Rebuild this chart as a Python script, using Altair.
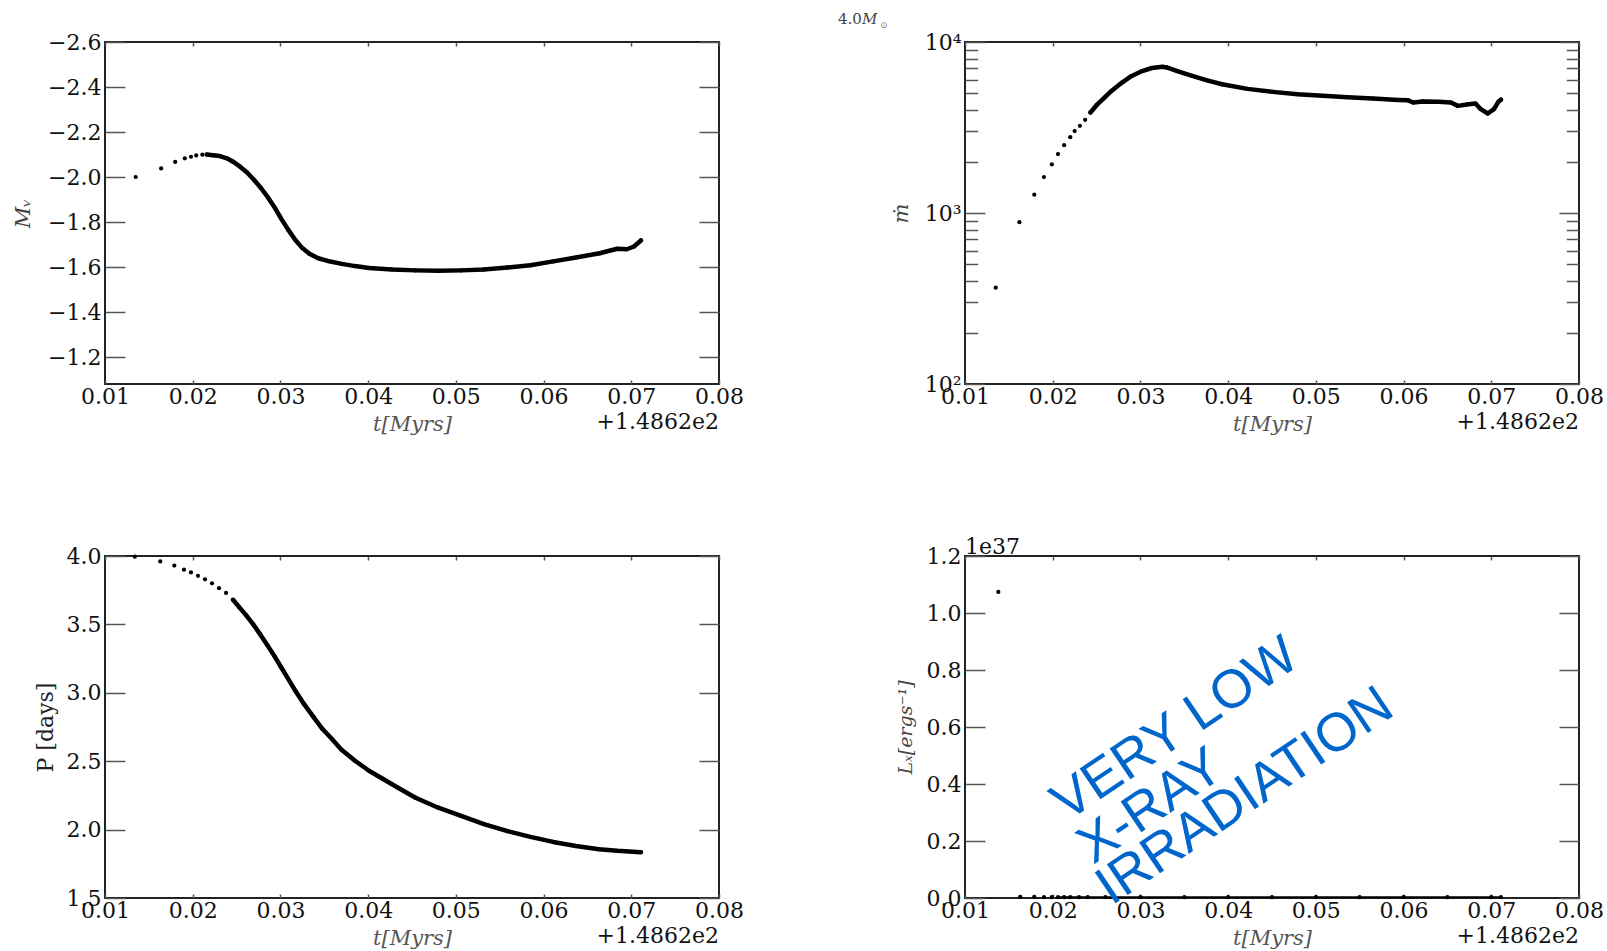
import altair as alt
import pandas as pd

# ---------------- data (time offsets from 148.62 Myr) ----------------
mv_t = [0.0135, 0.0164, 0.0180, 0.0191, 0.0198, 0.0204, 0.0211, 0.0216, 0.0223, 0.0231,
        0.0239, 0.0246, 0.0254, 0.0262, 0.0270, 0.0278, 0.0286, 0.0294, 0.0301, 0.0309,
        0.0317, 0.0325, 0.0333, 0.0343, 0.0354, 0.0370, 0.0385, 0.0401, 0.0427, 0.0454,
        0.0480, 0.0506, 0.0532, 0.0559, 0.0585, 0.0611, 0.0637, 0.0664, 0.0684, 0.0695,
        0.0703, 0.0711]
mv_v = [-2.000, -2.038, -2.067, -2.083, -2.090, -2.096, -2.099, -2.100, -2.097, -2.093,
        -2.083, -2.068, -2.046, -2.020, -1.987, -1.950, -1.908, -1.861, -1.814, -1.765,
        -1.720, -1.684, -1.659, -1.639, -1.627, -1.614, -1.604, -1.596, -1.589, -1.585,
        -1.583, -1.585, -1.589, -1.598, -1.608, -1.625, -1.642, -1.661, -1.681, -1.679,
        -1.691, -1.718]

md_t = [0.0135, 0.0162, 0.0179, 0.0190, 0.0199, 0.0206, 0.0213, 0.0220, 0.0225, 0.0231,
        0.0237, 0.0243, 0.0250, 0.0259, 0.0267, 0.0279, 0.0290, 0.0302, 0.0313, 0.0325,
        0.0330, 0.0342, 0.0359, 0.0376, 0.0393, 0.0422, 0.0451, 0.0479, 0.0508, 0.0536,
        0.0565, 0.0594, 0.0605, 0.0611, 0.0622, 0.0640, 0.0654, 0.0662, 0.0674, 0.0682,
        0.0688, 0.0696, 0.0703, 0.0708, 0.0711]
md_v = [366, 883, 1280, 1623, 1923, 2210, 2493, 2777, 3013, 3237,
        3508, 3872, 4270, 4730, 5176, 5790, 6330, 6760, 7045, 7160,
        7100, 6760, 6330, 5970, 5660, 5320, 5110, 4950, 4845, 4757,
        4670, 4585, 4560, 4426, 4490, 4470, 4426, 4230, 4327, 4365,
        4046, 3818, 4046, 4470, 4600]

p_t = [0.0134, 0.0163, 0.0179, 0.0190, 0.0198, 0.0206, 0.0214, 0.0222, 0.0230, 0.0238,
       0.0246, 0.0253, 0.0261, 0.0269, 0.0277, 0.0285, 0.0293, 0.0301, 0.0309, 0.0317,
       0.0327, 0.0338, 0.0348, 0.0359, 0.0369, 0.0385, 0.0401, 0.0417, 0.0433, 0.0454,
       0.0480, 0.0506, 0.0532, 0.0558, 0.0585, 0.0611, 0.0637, 0.0663, 0.0684, 0.0711]
p_v = [3.995, 3.960, 3.930, 3.900, 3.880, 3.855, 3.830, 3.800, 3.765, 3.730,
       3.680, 3.626, 3.566, 3.500, 3.427, 3.350, 3.270, 3.185, 3.100, 3.015,
       2.917, 2.820, 2.735, 2.660, 2.588, 2.503, 2.430, 2.370, 2.310, 2.233,
       2.160, 2.100, 2.040, 1.990, 1.947, 1.910, 1.880, 1.857, 1.845, 1.835]

lx_t = [0.0138, 0.0163, 0.0179, 0.0190, 0.0199, 0.0206, 0.0213, 0.0220, 0.0230, 0.0240,
        0.0260, 0.0300, 0.0350, 0.0400, 0.0450, 0.0500, 0.0550, 0.0600, 0.0650, 0.0700,
        0.0711]
lx_v = [1.074, 0.004, 0.004, 0.003, 0.003, 0.003, 0.003, 0.003, 0.003, 0.003,
        0.003, 0.003, 0.003, 0.003, 0.003, 0.003, 0.003, 0.003, 0.003, 0.003,
        0.003]

x_ticks = [0.01, 0.02, 0.03, 0.04, 0.05, 0.06, 0.07, 0.08]
mv_ticks = [-2.6, -2.4, -2.2, -2.0, -1.8, -1.6, -1.4, -1.2]
md_major = [100, 1000, 10000]
md_minor = [200, 300, 400, 500, 600, 700, 800, 900, 2000, 3000, 4000, 5000, 6000, 7000, 8000, 9000]
p_ticks = [1.5, 2.0, 2.5, 3.0, 3.5, 4.0]
lx_ticks = [0.0, 0.2, 0.4, 0.6, 0.8, 1.0, 1.2]

offset_text = ["+1.4862e2"]
lx_offset_text = ["1e37"]
mass_text = ["4.0", "M", "⊙"]
blue_lines = ["VERY LOW", "X-RAY", "IRRADIATION"]

# ---------------- styling ----------------
W, H = 614, 342
FONT = "DejaVu Serif"
LFS = 22
TICKC = "#555555"
MAJ, XT = 20, 4

xs = alt.Scale(domain=[0.01, 0.08], nice=False, zero=False)


def x_bottom():
    return alt.Axis(orient="bottom", values=x_ticks, format=".2f", offset=-XT, tickSize=XT,
                    tickWidth=1.5, tickColor=TICKC, domain=False, grid=False,
                    labelFont=FONT, labelFontSize=LFS, labelColor="#111111", labelPadding=2,
                    labelFlush=False, labelOverlap=False, labelBound=False,
                    title="t[Myrs]", titleFont=FONT, titleFontStyle="italic",
                    titleFontWeight="normal", titleFontSize=21, titleColor="#555555",
                    titleBaseline="alphabetic", titleAlign="center", titleX=W / 2, titleY=50)


def x_top():
    return alt.Axis(orient="top", values=x_ticks, offset=-XT, tickSize=XT, tickWidth=1.5,
                    tickColor=TICKC, domain=False, grid=False, labels=False, title=None)


def y_left(values, title, title_x, fmt=None, expr=None, tsize=21, tstyle="italic",
           tcolor="#444444"):
    kw = dict(orient="left", values=values, offset=-MAJ, tickSize=MAJ, tickWidth=1.5,
              tickColor=TICKC, domain=False, grid=False, labelFont=FONT,
              labelFontSize=LFS, labelColor="#111111", labelPadding=4,
              labelOverlap=False, labelFlush=False, labelBound=False,
              title=title, titleFont=FONT, titleFontStyle=tstyle, titleFontWeight="normal",
              titleFontSize=tsize, titleColor=tcolor, titleAngle=270,
              titleBaseline="middle", titleAlign="center", titleX=title_x, titleY=H / 2)
    if fmt is not None:
        kw["format"] = fmt
    if expr is not None:
        kw["labelExpr"] = expr
    return alt.Axis(**kw)


def y_right(values, size=MAJ):
    return alt.Axis(orient="right", values=values, offset=-size, tickSize=size, tickWidth=1.5,
                    tickColor=TICKC, domain=False, grid=False, labels=False, title=None)


def y_left_minor(values, size):
    return alt.Axis(orient="left", values=values, offset=-size, tickSize=size, tickWidth=1.5,
                    tickColor=TICKC, domain=False, grid=False, labels=False, title=None)


def panel(tv, vv, ys, left_axis, right_values, dense_from, line_w=4.5,
          extra=None, minor=None):
    df = pd.DataFrame({"t": tv, "v": vv})
    base = alt.Chart(df)
    pts = base.mark_circle(size=18, color="black", opacity=1).encode(
        x=alt.X("t:Q", scale=xs, axis=x_bottom()),
        y=alt.Y("v:Q", scale=ys, axis=left_axis))
    line = base.transform_filter(alt.datum.t >= dense_from).mark_line(
        color="black", strokeWidth=line_w, strokeJoin="round", strokeCap="round").encode(
        x=alt.X("t:Q", scale=xs, axis=None), y=alt.Y("v:Q", scale=ys, axis=None))
    ax2 = base.mark_circle(opacity=0).encode(
        x=alt.X("t:Q", scale=xs, axis=x_top()),
        y=alt.Y("v:Q", scale=ys, axis=y_right(right_values)))
    layers = [pts, line, ax2]
    if minor is not None:
        layers.append(base.mark_circle(opacity=0).encode(
            x=alt.X("t:Q", scale=xs, axis=None),
            y=alt.Y("v:Q", scale=ys, axis=y_left_minor(minor, 12.7))))
        layers.append(base.mark_circle(opacity=0).encode(
            x=alt.X("t:Q", scale=xs, axis=None),
            y=alt.Y("v:Q", scale=ys, axis=y_right(minor, 12.7))))
    offs = alt.Chart(pd.DataFrame({"s": offset_text})).mark_text(
        font=FONT, fontSize=LFS, color="#111111", align="right", baseline="alphabetic").encode(
        text="s:N", x=alt.value(W), y=alt.value(H + 45))
    layers.append(offs)
    if extra:
        layers.extend(extra)
    return alt.layer(*layers).resolve_axis(x="independent", y="independent").properties(
        width=W, height=H)


# anchor fixing the top-left plot origin on the page
anchor = alt.Chart(pd.DataFrame({"a": [0]})).mark_rule(opacity=0, strokeWidth=0).encode(
    x=alt.value(-103.5), x2=alt.value(-103.5), y=alt.value(-40.5), y2=alt.value(-40.5))

tl = panel(mv_t, mv_v,
           alt.Scale(domain=[-2.6, -1.08], reverse=True, nice=False, zero=False),
           y_left(mv_ticks, "Mᵥ", -101.5, fmt=".1f"), mv_ticks, 0.0216, extra=[anchor])

mass = []
mass.append(alt.Chart(pd.DataFrame({"s": [mass_text[0]]})).mark_text(
    font=FONT, fontSize=15, color="#444444", align="left", baseline="alphabetic").encode(
    text="s:N", x=alt.value(-127), y=alt.value(-18.5)))
mass.append(alt.Chart(pd.DataFrame({"s": [mass_text[1]]})).mark_text(
    font=FONT, fontSize=15, fontStyle="italic", color="#444444", align="left",
    baseline="alphabetic").encode(text="s:N", x=alt.value(-103), y=alt.value(-18.5)))
mass.append(alt.Chart(pd.DataFrame({"s": [mass_text[2]]})).mark_text(
    font=FONT, fontSize=9, color="#777777", align="left", baseline="alphabetic").encode(
    text="s:N", x=alt.value(-85), y=alt.value(-14)))

tr = panel(md_t, md_v,
           alt.Scale(type="log", domain=[100, 10000], nice=False),
           y_left(md_major, "ṁ", -84,
                  expr="datum.value > 5000 ? '10⁴' : (datum.value > 500 ? '10³' : '10²')"),
           md_major, 0.0243, extra=mass, minor=md_minor)

bl = panel(p_t, p_v,
           alt.Scale(domain=[1.5, 4.0], nice=False, zero=False),
           y_left(p_ticks, "P [days]", -79.5, fmt=".1f", tsize=22, tstyle="normal",
                  tcolor="#222222"),
           p_ticks, 0.0246)

lx_extra = [alt.Chart(pd.DataFrame({"s": lx_offset_text})).mark_text(
    font=FONT, fontSize=LFS, color="#111111", align="left", baseline="alphabetic").encode(
    text="s:N", x=alt.value(0), y=alt.value(-2.5))]
blue_pos = [(102, 266), (128, 309), (146.5, 350)]
for s, (bx, by) in zip(blue_lines, blue_pos):
    lx_extra.append(alt.Chart(pd.DataFrame({"s": [s]})).mark_text(
        font="Liberation Sans", fontSize=54, color="#0066CC", align="left",
        baseline="alphabetic", angle=326).encode(text="s:N", x=alt.value(bx), y=alt.value(by)))

br = panel(lx_t, lx_v,
           alt.Scale(domain=[0, 1.2], nice=False, zero=False),
           y_left(lx_ticks, "Lₓ[ergs⁻¹]", -80, fmt=".1f", tsize=19),
           lx_ticks, 0.0206, line_w=2.0, extra=lx_extra)

chart = alt.concat(tl, tr, bl, br, columns=2, spacing={"row": 172, "column": 246},
                   bounds="flush").properties(padding=0, background="white").configure_view(
    stroke="#222222", strokeWidth=2)

chart.save("out.html", embed_options={"renderer": "svg", "actions": False})
